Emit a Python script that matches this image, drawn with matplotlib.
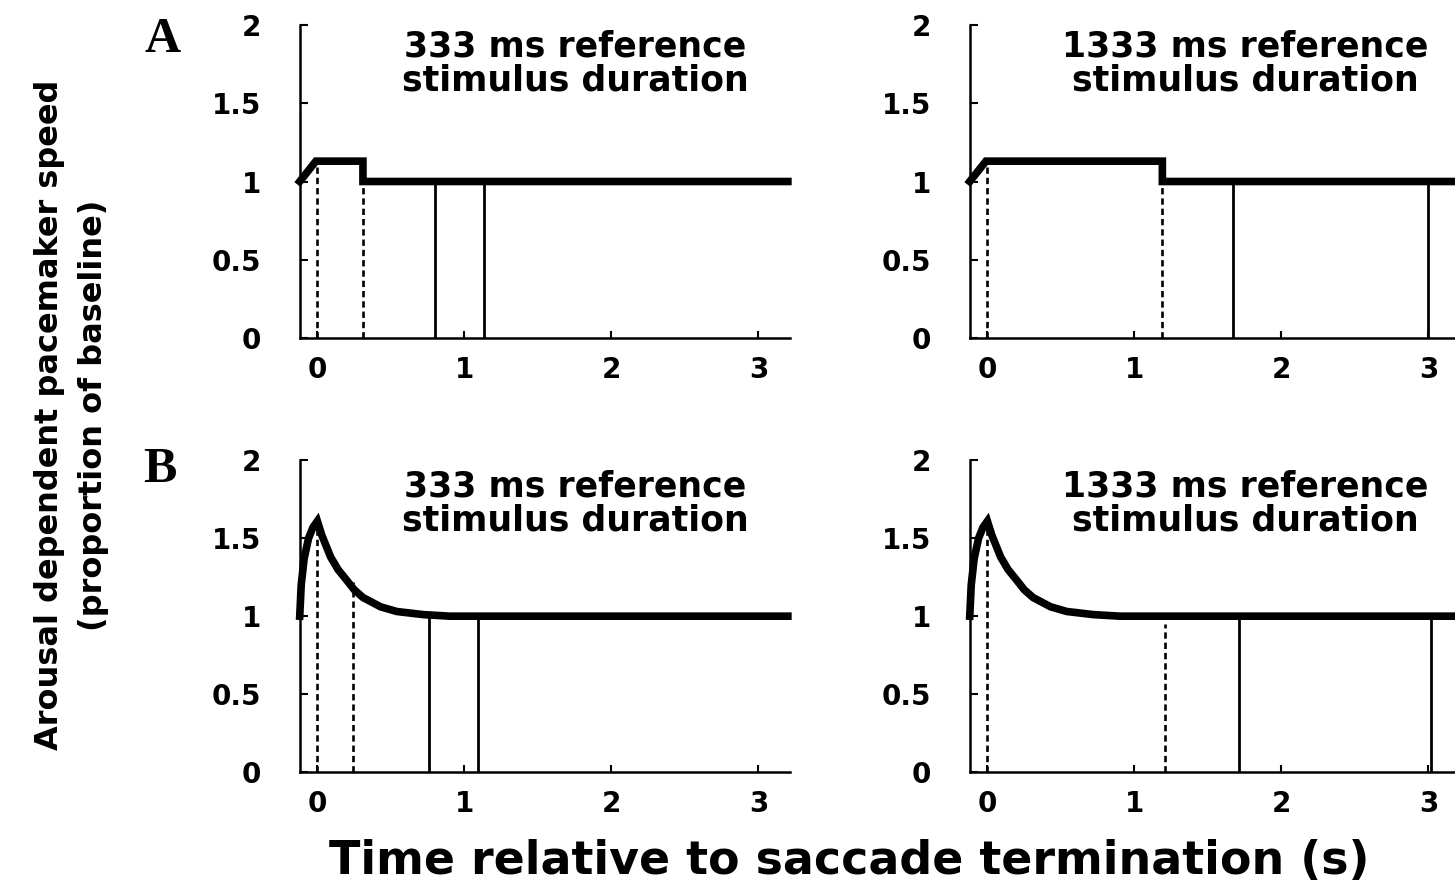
import matplotlib
matplotlib.use("Agg")
import matplotlib.pyplot as plt

# ==========================================
# DATA
# ==========================================

# A: step-shaped pacemaker speed
a_short_x = [-0.12, -0.01, 0.31, 0.31, 3.2]
a_short_y = [1.0, 1.13, 1.13, 1.0, 1.0]
a_long_x = [-0.12, -0.01, 1.19, 1.19, 3.2]
a_long_y = [1.0, 1.13, 1.13, 1.0, 1.0]

# B: transient peak with decay back to baseline
b_x = [-0.12, -0.11, -0.09, -0.06, -0.03, 0.0, 0.03, 0.06, 0.09, 0.14,
       0.2, 0.25, 0.31, 0.37, 0.43, 0.54, 0.72, 0.9, 3.2]
b_y = [1.0, 1.2, 1.37, 1.5, 1.57, 1.61, 1.52, 1.45, 1.38, 1.3,
       1.23, 1.17, 1.12, 1.09, 1.06, 1.03, 1.01, 1.0, 1.0]

# reference stimulus (dashed) and comparison stimulus (solid) markers
a_short_dash_x = [0.0, 0.31]
a_short_dash_top = [1.1, 1.0]
a_short_solid_x = [0.80, 1.13]

a_long_dash_x = [0.0, 1.19]
a_long_dash_top = [1.1, 1.0]
a_long_solid_x = [1.67, 3.0]

b_short_dash_x = [0.0, 0.24]
b_short_dash_top = [1.6, 1.22]
b_short_solid_x = [0.76, 1.09]

b_long_dash_x = [0.0, 1.21]
b_long_dash_top = [1.6, 0.95]
b_long_solid_x = [1.71, 3.02]

titles = ["333 ms reference\nstimulus duration",
          "1333 ms reference\nstimulus duration"]
y_ticks = [0, 0.5, 1, 1.5, 2]
y_ticklabels = ["0", "0.5", "1", "1.5", "2"]
x_ticks = [0, 1, 2, 3]
x_ticklabels = ["0", "1", "2", "3"]

# ==========================================
# PLOT
# ==========================================

plt.rcParams["font.family"] = ["DejaVu Sans"]
plt.rcParams["font.weight"] = "bold"

fig = plt.figure(figsize=(14.55, 8.93), dpi=100)

W = 0.3368
H = 0.3505
positions = {
    "a_short": [0.2062, 0.6215, W, H],
    "a_long": [0.6667, 0.6215, W, H],
    "b_short": [0.2062, 0.1355, W, 0.349],
    "b_long": [0.6667, 0.1355, W, 0.349],
}


def draw_panel(ax, xs, ys, dash_x, dash_top, solid_x, title, title_y):
    ax.plot(xs, ys, color="black", lw=5.5, solid_joinstyle="miter", clip_on=False)
    ax.vlines(dash_x, 0, dash_top, colors="black", lw=1.9, linestyles=(0, (2.4, 1.5)))
    ax.vlines(solid_x, 0, 1.0, colors="black", lw=2.0)

    ax.set_xlim(-0.118, 3.215)
    ax.set_ylim(0, 2)
    ax.set_yticks(y_ticks)
    ax.set_yticklabels(y_ticklabels)
    ax.set_xticks(x_ticks)
    ax.set_xticklabels(x_ticklabels)
    ax.tick_params(axis="y", direction="in", length=6, width=1.5, pad=28, labelsize=20)
    ax.tick_params(axis="x", direction="in", length=5, width=1.5, pad=13, labelsize=20)
    for lbl in ax.get_xticklabels() + ax.get_yticklabels():
        lbl.set_fontweight("bold")

    ax.spines["top"].set_visible(False)
    ax.spines["right"].set_visible(False)
    ax.spines["left"].set_linewidth(1.8)
    ax.spines["bottom"].set_linewidth(1.8)

    ax.text(0.562, title_y, title, transform=ax.transAxes, ha="center", va="center",
            fontsize=25, fontweight="bold", linespacing=1.0)


ax1 = fig.add_axes(positions["a_short"])
draw_panel(ax1, a_short_x, a_short_y, a_short_dash_x, a_short_dash_top,
           a_short_solid_x, titles[0], 0.878)

ax2 = fig.add_axes(positions["a_long"])
draw_panel(ax2, a_long_x, a_long_y, a_long_dash_x, a_long_dash_top,
           a_long_solid_x, titles[1], 0.878)

ax3 = fig.add_axes(positions["b_short"])
draw_panel(ax3, b_x, b_y, b_short_dash_x, b_short_dash_top,
           b_short_solid_x, titles[0], 0.862)

ax4 = fig.add_axes(positions["b_long"])
draw_panel(ax4, b_x, b_y, b_long_dash_x, b_long_dash_top,
           b_long_solid_x, titles[1], 0.862)

# panel letters
fig.text(0.112, 0.955, "A", ha="center", va="center", fontsize=36,
         fontweight="bold", family=["Liberation Serif"])
fig.text(0.110, 0.474, "B", ha="center", va="center", fontsize=36,
         fontweight="bold", family=["Liberation Serif"])

# shared axis labels
fig.text(0.049, 0.535, "Arousal dependent pacemaker speed\n(proportion of baseline)",
         rotation=90, ha="center", va="center", fontsize=23, fontweight="bold",
         linespacing=1.55)
fig.text(0.584, 0.035, "Time relative to saccade termination (s)", ha="center",
         va="center", fontsize=33, fontweight="bold")

fig.savefig("out.png", dpi=100)
